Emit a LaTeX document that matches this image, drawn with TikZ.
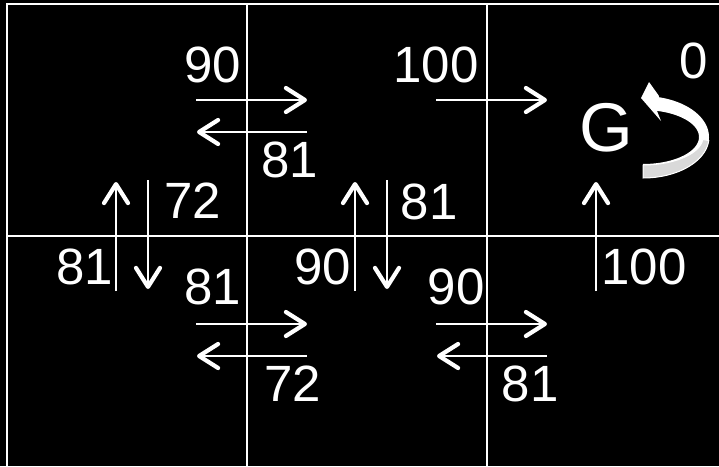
\documentclass[tikz,border=0pt]{standalone}
\usepackage{fontspec}
\setmainfont{Liberation Sans}
\usetikzlibrary{arrows.meta}
\begin{document}
\begin{tikzpicture}[x=1pt,y=-1pt,
  lbl/.style={text=white,font=\fontsize{51}{51}\selectfont,inner sep=0pt},
  glbl/.style={text=white,font=\fontsize{69}{69}\selectfont,inner sep=0pt},
  arr/.style={draw=white,line width=1.5pt,-{Straight Barb[length=19pt,width=24pt,line width=4.2pt,round]}},
  outerline/.style={draw=white,line width=2.4pt},
  gridline/.style={draw=white,line width=2pt}]
\fill[black] (0,0) rectangle (719,466);
\useasboundingbox (0,0) rectangle (719,466);
% grid
\draw[outerline] (7,466) -- (7,4) -- (719,4);
\draw[gridline] (247,4) -- (247,466);
\draw[gridline] (487,4) -- (487,466);
\draw[gridline] (7,236) -- (719,236);
% labels
\node[lbl] (l90a) at (213,65) {90};
\node[lbl] (l81a) at (290,160) {81};
\node[lbl] (l72a) at (193,201) {72};
\node[lbl] (l100a) at (436,65) {100};
\node[lbl] (l0) at (694,61) {0};
\node[glbl] (G) at (606,128) {G};
\node[lbl] (l81b) at (429,202) {81};
\node[lbl] (l81c) at (85,267) {81};
\node[lbl] (l90b) at (323,267) {90};
\node[lbl] (l100b) at (644,267) {100};
\node[lbl] (l81d) at (213,287) {81};
\node[lbl] (l72b) at (293,384) {72};
\node[lbl] (l90c) at (456,287) {90};
\node[lbl] (l81e) at (530,384) {81};
% arrow end points
\coordinate (r1s) at (196,100); \coordinate (r1e) at (307,100);
\coordinate (w1s) at (307,132); \coordinate (w1e) at (197,132);
\coordinate (r2s) at (436,100); \coordinate (r2e) at (547,100);
\coordinate (u1s) at (116,291); \coordinate (u1e) at (116,182);
\coordinate (d1s) at (148,180); \coordinate (d1e) at (148,289);
\coordinate (u2s) at (355,291); \coordinate (u2e) at (355,182);
\coordinate (d2s) at (387,180); \coordinate (d2e) at (387,289);
\coordinate (u3s) at (596,291); \coordinate (u3e) at (596,182);
\coordinate (r3s) at (196,324); \coordinate (r3e) at (307,324);
\coordinate (w3s) at (307,356); \coordinate (w3e) at (197,356);
\coordinate (r4s) at (436,324); \coordinate (r4e) at (547,324);
\coordinate (w4s) at (547,356); \coordinate (w4e) at (437,356);
\foreach \a in {r1,w1,r2,u1,d1,u2,d2,u3,r3,w3,r4,w4}
  \draw[arr] (\a s) -- (\a e);
% curved self-loop arrow at G
\fill[white] (657,111) -- (661,121) -- (641,98) -- (649,82) -- (659,96)
  -- plot[domain=76:-90,samples=40,variable=\t] ({643+66*cos(\t)},{137-41*sin(\t)})
  -- plot[domain=-90:76,samples=40,variable=\t] ({643+56*cos(\t)},{137-27*sin(\t)})
  -- cycle;
\filldraw[fill=gray!30,draw=white,line width=1pt]
  plot[domain=-5:-90,samples=30,variable=\t] ({643+66*cos(\t)},{137-41*sin(\t)})
  -- plot[domain=-90:-5,samples=30,variable=\t] ({643+60*cos(\t)},{137-28*sin(\t)})
  -- cycle;
\end{tikzpicture}
\end{document}
